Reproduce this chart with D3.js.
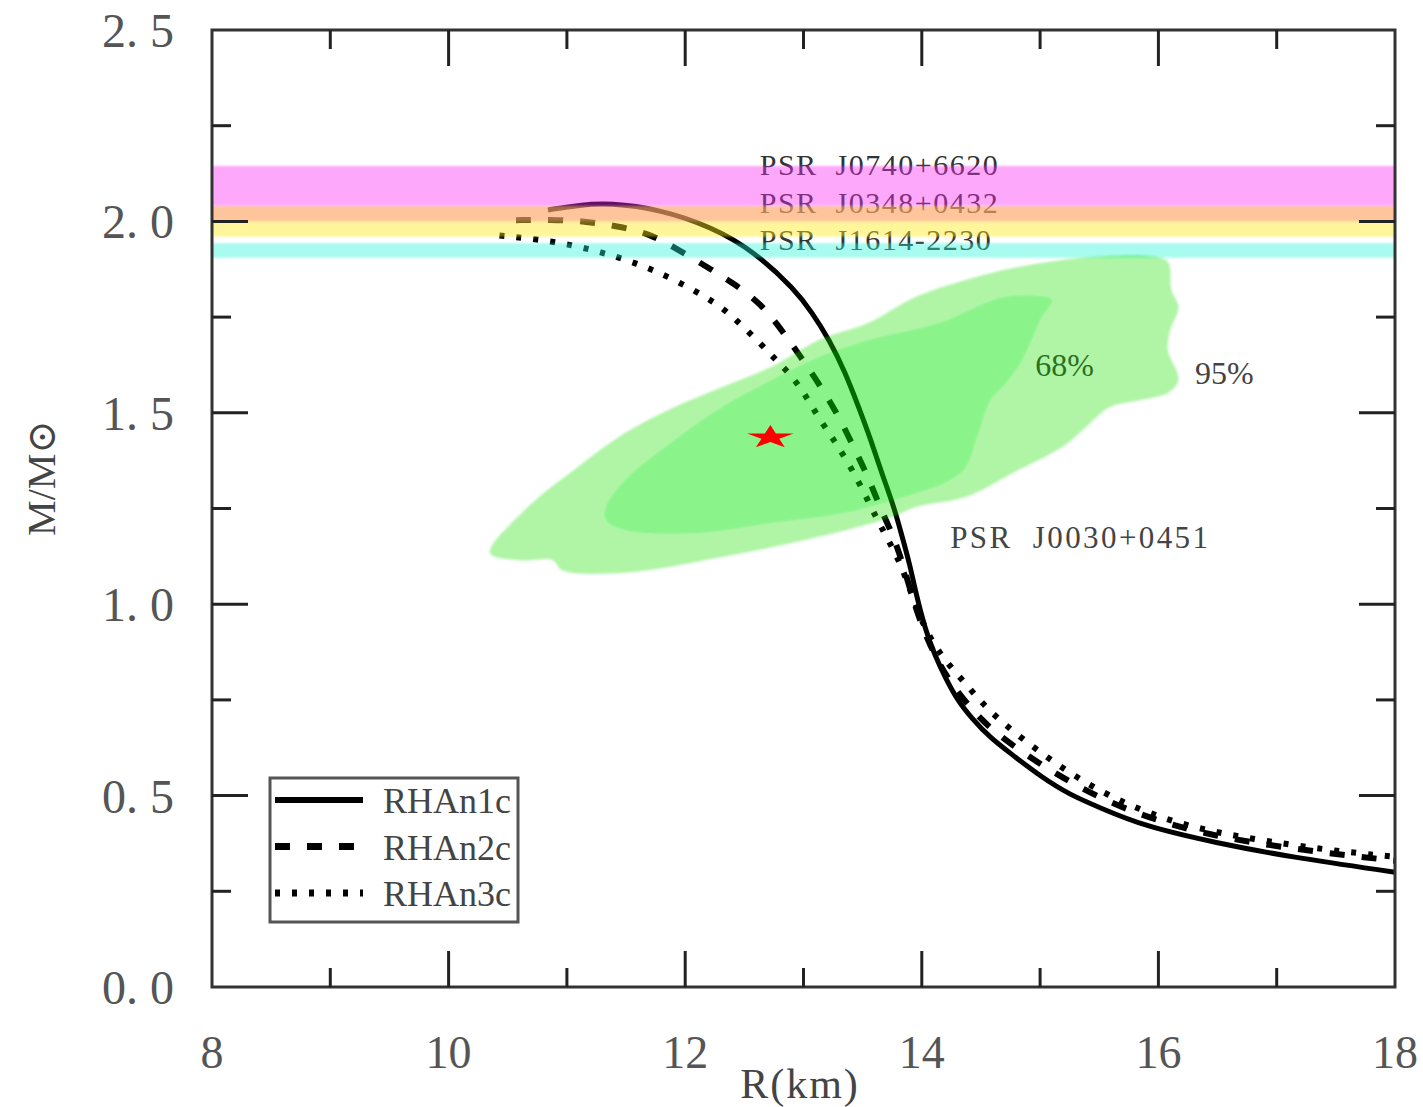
<!DOCTYPE html>
<html>
<head>
<meta charset="utf-8">
<script src="https://cdn.jsdelivr.net/npm/d3@7"></script>
<style>
  body { margin: 0; background: #fff; }
  text { font-family: "Liberation Serif", "DejaVu Serif", serif; }
</style>
</head>
<body>
<div id="chart"></div>
<script>
// radius ticks (km) and mass ticks (solar masses)
const radiusTicks = [8, 10, 12, 14, 16, 18];
const massTicks = [0, 0.5, 1.0, 1.5, 2.0, 2.5];

// mass-radius curves, [R, M]
const rhan1c = [
  [10.84, 2.030], [11.11, 2.043], [11.36, 2.048], [11.78, 2.032], [12.23, 1.985],
  [12.59, 1.920], [12.93, 1.821], [13.07, 1.763], [13.22, 1.690], [13.35, 1.607],
  [13.46, 1.520], [13.57, 1.429], [13.66, 1.343], [13.76, 1.259], [13.83, 1.181],
  [13.90, 1.102], [13.95, 1.029], [14.03, 0.933], [14.11, 0.867], [14.20, 0.807],
  [14.30, 0.750], [14.42, 0.703], [14.58, 0.650], [14.79, 0.601], [15.00, 0.551],
  [15.25, 0.502], [15.51, 0.468], [15.87, 0.421], [16.49, 0.376], [17.11, 0.340],
  [18.00, 0.300]
];
const rhan2c = [
  [10.57, 2.003], [10.86, 2.005], [11.17, 2.000], [11.44, 1.987], [11.69, 1.969],
  [11.92, 1.930], [12.19, 1.880], [12.40, 1.840], [12.64, 1.786], [12.83, 1.710],
  [12.99, 1.640], [13.15, 1.567], [13.30, 1.490], [13.44, 1.400], [13.55, 1.330],
  [13.65, 1.250], [13.75, 1.185], [13.83, 1.115], [13.90, 1.040], [13.98, 0.960],
  [14.10, 0.870], [14.25, 0.790], [14.45, 0.715], [14.62, 0.665], [14.82, 0.620],
  [15.07, 0.568], [15.56, 0.482], [16.18, 0.414], [16.80, 0.376], [17.42, 0.350],
  [18.00, 0.330]
];
const rhan3c = [
  [10.43, 1.963], [10.86, 1.950], [11.25, 1.924], [11.60, 1.890], [11.90, 1.850],
  [12.27, 1.786], [12.44, 1.740], [12.64, 1.680], [12.77, 1.637], [12.89, 1.600],
  [13.01, 1.550], [13.13, 1.485], [13.26, 1.428], [13.38, 1.368], [13.50, 1.300],
  [13.62, 1.222], [13.73, 1.160], [13.83, 1.100], [13.92, 1.020], [14.02, 0.940],
  [14.15, 0.870], [14.32, 0.810], [14.50, 0.745], [14.66, 0.695], [15.07, 0.595],
  [15.56, 0.498], [16.18, 0.422], [16.80, 0.386], [17.42, 0.358], [18.00, 0.340]
];

// pulsar mass constraints
const bands = [
  { name: "PSR  J0740+6620", lo: 2.000, hi: 2.145 },
  { name: "PSR  J0348+0432", lo: 1.960, hi: 2.040 },
  { name: "PSR  J1614-2230", lo: 1.905, hi: 1.943 }
];

// NICER PSR J0030+0451 credible regions, [R, M]
const contour95 = [
  [10.35, 1.134], [10.67, 1.254], [11.09, 1.358], [11.49, 1.447], [11.91, 1.515],
  [12.31, 1.567], [12.73, 1.620], [13.13, 1.690], [13.55, 1.735], [13.95, 1.803],
  [14.37, 1.847], [14.77, 1.878], [15.19, 1.899], [15.59, 1.910], [15.92, 1.910],
  [16.08, 1.894], [16.11, 1.821], [16.17, 1.776], [16.10, 1.716], [16.08, 1.664],
  [16.17, 1.586], [16.08, 1.552], [15.84, 1.533], [15.59, 1.515], [15.39, 1.463],
  [15.19, 1.411], [14.77, 1.343], [14.37, 1.280], [13.95, 1.254], [13.75, 1.228],
  [13.13, 1.176], [12.31, 1.123], [11.49, 1.082], [10.96, 1.089], [10.88, 1.115],
  [10.60, 1.115]
];
const contour68 = [
  [11.33, 1.220], [11.49, 1.194], [12.11, 1.186], [12.73, 1.212], [13.34, 1.238],
  [13.95, 1.290], [14.24, 1.324], [14.37, 1.358], [14.48, 1.447], [14.58, 1.533],
  [14.70, 1.573], [14.85, 1.638], [15.00, 1.742], [15.10, 1.795], [15.00, 1.805],
  [14.66, 1.800], [14.15, 1.735], [13.55, 1.690], [13.13, 1.646], [12.73, 1.586],
  [12.31, 1.515], [11.91, 1.429], [11.49, 1.324], [11.33, 1.254]
];
const bestFit = [12.72, 1.436];

const width = 1423, height = 1107;
const margin = { top: 30, right: 28, bottom: 120, left: 212 };

const svg = d3.select("#chart").append("svg")
  .attr("width", width).attr("height", height);

svg.append("defs").append("filter").attr("id", "soft")
  .append("feGaussianBlur").attr("stdDeviation", 1.2);

const x = d3.scaleLinear().domain([8, 18]).range([margin.left, width - margin.right]);
const y = d3.scaleLinear().domain([0, 2.5]).range([height - margin.bottom, margin.top]);

const line = d3.line().x(d => x(d[0])).y(d => y(d[1])).curve(d3.curveBasis);
const ring = d3.line().x(d => x(d[0])).y(d => y(d[1])).curve(d3.curveCatmullRomClosed.alpha(0.5));

// labels sit under the translucent fills so they pick up the tint
const tg = svg.append("g").attr("fill", "#333");
tg.selectAll(".band-label")
  .data(bands)
  .join("text")
    .attr("class", "band-label")
    .attr("x", x(12.63))
    .attr("y", (d, i) => [175, 213, 250][i])
    .style("white-space", "pre")
    .attr("font-size", 30)
    .attr("letter-spacing", 1.5)
    .text(d => d.name);
tg.append("text").attr("x", x(14.96)).attr("y", 376).attr("font-size", 32).text("68%");
tg.append("text").attr("x", x(16.31)).attr("y", 384).attr("font-size", 32).attr("fill", "#444").text("95%");
tg.append("text").attr("x", x(14.24)).attr("y", 548).attr("font-size", 31)
  .attr("fill", "#444")
  .attr("letter-spacing", 2.4).style("white-space", "pre").text("PSR  J0030+0451");

// curves
const styles = [
  { data: rhan1c, name: "RHAn1c", dash: null, w: 5 },
  { data: rhan2c, name: "RHAn2c", dash: "15,17", w: 6 },
  { data: rhan3c, name: "RHAn3c", dash: "5,12", w: 6 }
];
svg.append("g").selectAll("path")
  .data(styles)
  .join("path")
    .attr("d", d => line(d.data))
    .attr("fill", "none")
    .attr("stroke", "#000")
    .attr("stroke-width", d => d.w)
    .attr("stroke-dasharray", d => d.dash);

// mass bands
const bandFill = [["rgb(250,38,245)", 0.4], ["rgb(255,232,31)", 0.437], ["rgb(38,245,215)", 0.4]];
svg.append("g").attr("filter", "url(#soft)").selectAll("rect")
  .data(bands)
  .join("rect")
    .attr("x", x(8))
    .attr("width", x(18) - x(8))
    .attr("y", d => y(d.hi))
    .attr("height", d => y(d.lo) - y(d.hi))
    .attr("fill", (d, i) => bandFill[i][0])
    .attr("fill-opacity", (d, i) => bandFill[i][1]);

// credible regions
const cg = svg.append("g").attr("filter", "url(#soft)");
cg.append("path")
  .attr("d", ring(contour95) + ring(contour68))
  .attr("fill-rule", "evenodd")
  .attr("fill", "rgb(29,226,15)")
  .attr("fill-opacity", 0.35);
cg.append("path")
  .attr("d", ring(contour68))
  .attr("fill", "rgb(7,231,1)")
  .attr("fill-opacity", 0.46);

svg.append("path")
  .attr("d", d3.symbol(d3.symbolStar, 300)())
  .attr("transform", `translate(${x(bestFit[0])},${y(bestFit[1])}) scale(1.5,0.75)`)
  .attr("fill", "#f00");

// frame and ticks
const ax = svg.append("g").attr("stroke", "#222").attr("stroke-width", 3);
ax.append("rect")
  .attr("x", x(8)).attr("y", y(2.5))
  .attr("width", x(18) - x(8)).attr("height", y(0) - y(2.5))
  .attr("fill", "none").attr("stroke", "#333");

const xMinor = d3.range(9, 18, 2);
const yMinor = d3.range(0.25, 2.5, 0.5);
const tickSets = [
  ...radiusTicks.slice(1, -1).map(v => ({ v, len: 36, dir: "x" })),
  ...xMinor.map(v => ({ v, len: 19, dir: "x" })),
  ...massTicks.slice(1, -1).map(v => ({ v, len: 36, dir: "y" })),
  ...yMinor.map(v => ({ v, len: 19, dir: "y" }))
];
tickSets.forEach(t => {
  if (t.dir === "x") {
    ax.append("line").attr("x1", x(t.v)).attr("x2", x(t.v)).attr("y1", y(0)).attr("y2", y(0) - t.len);
    ax.append("line").attr("x1", x(t.v)).attr("x2", x(t.v)).attr("y1", y(2.5)).attr("y2", y(2.5) + t.len);
  } else {
    ax.append("line").attr("y1", y(t.v)).attr("y2", y(t.v)).attr("x1", x(8)).attr("x2", x(8) + t.len);
    ax.append("line").attr("y1", y(t.v)).attr("y2", y(t.v)).attr("x1", x(18)).attr("x2", x(18) - t.len);
  }
});

// tick labels
svg.append("g").attr("fill", "#555").attr("font-size", 48)
  .selectAll("text")
  .data(massTicks)
  .join("text")
    .attr("x", x(8) - 38)
    .attr("y", d => y(d) + 17)
    .attr("text-anchor", "end")
    .style("white-space", "pre")
    .text(d => d.toFixed(1).replace(".", ". "));

svg.append("g").attr("fill", "#555").attr("font-size", 46)
  .selectAll("text")
  .data(radiusTicks)
  .join("text")
    .attr("x", d => x(d))
    .attr("y", 1068)
    .attr("text-anchor", "middle")
    .text(d => d);

// axis titles
svg.append("text")
  .attr("x", 800).attr("y", 1098)
  .attr("text-anchor", "middle")
  .attr("font-size", 42)
  .attr("letter-spacing", 2)
  .attr("fill", "#444")
  .text("R(km)");
svg.append("text")
  .attr("transform", "translate(55,478) rotate(-90)")
  .attr("text-anchor", "middle")
  .attr("font-size", 40)
  .attr("fill", "#444")
  .text("M/M\u2299");

// legend
const lg = svg.append("g");
lg.append("rect")
  .attr("x", 270).attr("y", 778).attr("width", 248).attr("height", 144)
  .attr("fill", "#fff").attr("stroke", "#555").attr("stroke-width", 3);
const rows = lg.selectAll(".row").data(styles).join("g")
  .attr("class", "row")
  .attr("transform", (d, i) => `translate(0,${800 + i * 46.5})`);
rows.append("line")
  .attr("x1", 275).attr("x2", 363)
  .attr("stroke", "#000")
  .attr("stroke-width", d => d.w + 1)
  .attr("stroke-dasharray", d => d.dash);
rows.append("text")
  .attr("x", 383).attr("y", 13)
  .attr("font-size", 36)
  .attr("fill", "#444")
  .text(d => d.name);
</script>
</body>
</html>
